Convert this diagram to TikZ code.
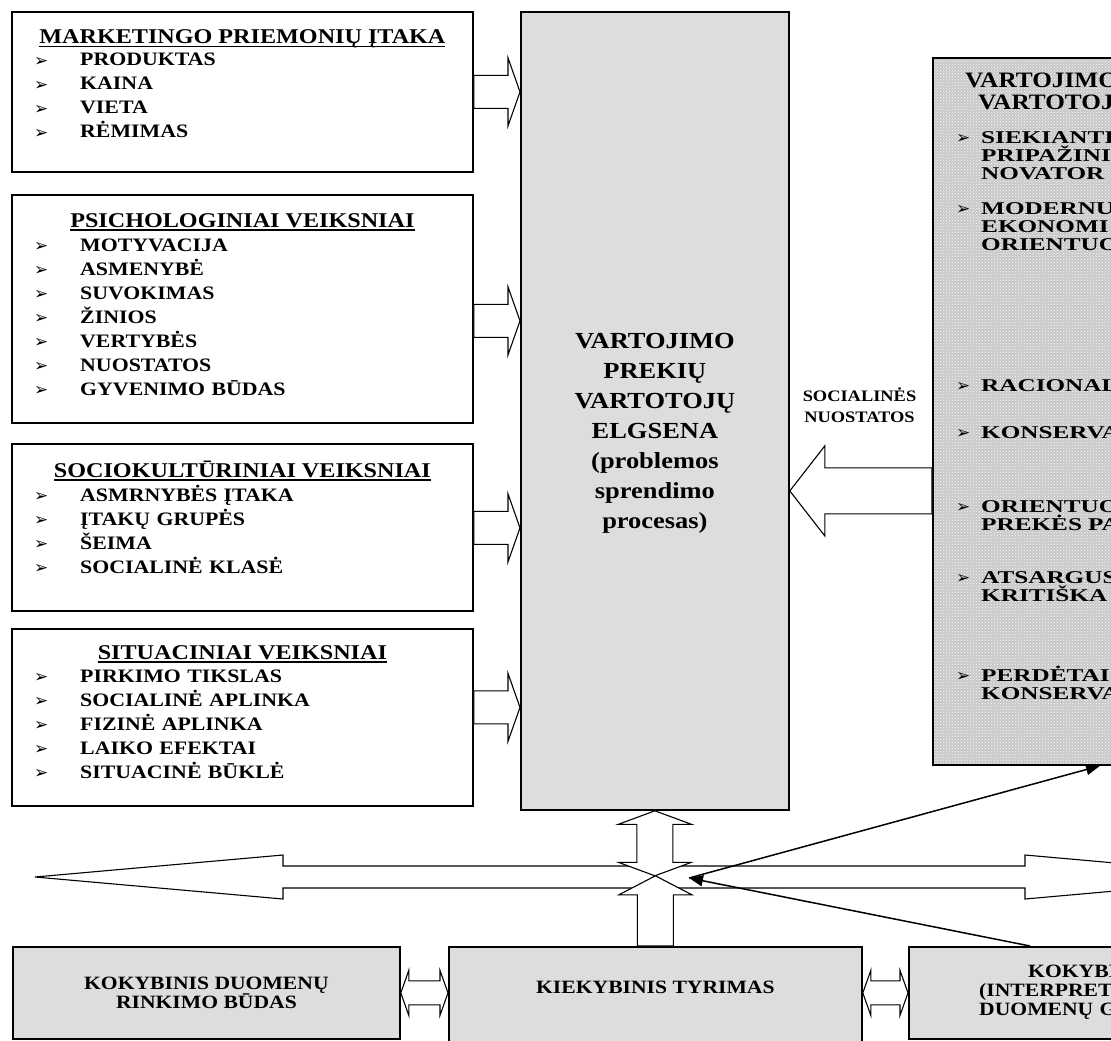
\documentclass[tikz,border=0pt]{standalone}
\usepackage{fontspec}
\setmainfont{Liberation Serif}[FakeStretch=1.15]
\newfontfamily\widefont{Liberation Serif}[FakeStretch=1.4]
\newfontfamily\dingfont{DejaVu Sans}
\usepackage{tikz}
\usetikzlibrary{calc, arrows.meta, patterns}

\definecolor{PanelGray}{RGB}{221,221,221}
\definecolor{DotBase}{RGB}{200,200,200}

\tikzset{
  factor/.style={draw, line width=1.8pt, fill=white, inner sep=0pt,
    minimum width=461pt, anchor=north west},
  panel/.style={draw, line width=1.8pt, fill=PanelGray, inner sep=0pt, anchor=north west},
  head/.style={anchor=base, inner sep=0pt, font=\bfseries\fontsize{21}{24}\selectfont},
  items/.style={anchor=base west, inner sep=0pt, align=left, text width=400pt,
    font=\bfseries\fontsize{19}{24}\selectfont},
  ritems/.style={anchor=base west, inner sep=0pt, align=left, text width=200pt,
    font=\widefont\bfseries\fontsize{18}{18}\selectfont},
  boxtxt/.style={inner sep=0pt, font=\bfseries\fontsize{18.8}{19}\selectfont},
  fat/.style={draw, fill=white, line width=1.1pt, line join=miter},
  thin/.style={line width=1.5pt, -{Triangle[length=14pt,width=11pt]}},
}

\newcommand{\bul}{{\dingfont\fontsize{17}{17}\selectfont\raisebox{-0.6pt}{➢}}}
\newcommand{\itm}[1]{\makebox[46pt][l]{\bul}#1}
\newcommand{\ulhd}[1]{\setbox0=\hbox{#1}\rlap{\rule[-3.5pt]{\wd0}{1.6pt}}\box0}

% block arrows: tail, tip, shaft half, head half, head length
\newcommand{\hfat}[5]{%
  \draw[fat] let \p1=(#1), \p2=(#2), \p3=($(\p2)!#5!(\p1)$) in
    (\x1,\y1+#3) -- (\x3,\y1+#3) -- (\x3,\y1+#4) -- (\x2,\y1)
    -- (\x3,\y1-#4) -- (\x3,\y1-#3) -- (\x1,\y1-#3) -- cycle;}
\newcommand{\vfat}[5]{%
  \draw[fat] let \p1=(#1), \p2=(#2), \p3=($(\p2)!#5!(\p1)$) in
    (\x1+#3,\y1) -- (\x1+#3,\y3) -- (\x1+#4,\y3) -- (\x1,\y2)
    -- (\x1-#4,\y3) -- (\x1-#3,\y3) -- (\x1-#3,\y1) -- cycle;}
% double block arrows: tip, tip, shaft half, head half, head length
\newcommand{\hdfat}[5]{%
  \draw[fat] let \p1=(#1), \p2=(#2), \p3=($(\p1)!#5!(\p2)$), \p4=($(\p2)!#5!(\p1)$) in
    (\x1,\y1) -- (\x3,\y1+#4) -- (\x3,\y1+#3) -- (\x4,\y1+#3) -- (\x4,\y1+#4) -- (\x2,\y1)
    -- (\x4,\y1-#4) -- (\x4,\y1-#3) -- (\x3,\y1-#3) -- (\x3,\y1-#4) -- cycle;}
\newcommand{\vdfat}[5]{%
  \draw[fat] let \p1=(#1), \p2=(#2), \p3=($(\p1)!#5!(\p2)$), \p4=($(\p2)!#5!(\p1)$) in
    (\x1,\y1) -- (\x1+#4,\y3) -- (\x1+#3,\y3) -- (\x1+#3,\y4) -- (\x1+#4,\y4) -- (\x1,\y2)
    -- (\x1-#4,\y4) -- (\x1-#3,\y4) -- (\x1-#3,\y3) -- (\x1-#4,\y3) -- cycle;}

\begin{document}
\begin{tikzpicture}[x=1pt, y=-1pt]
  \useasboundingbox (0,0) rectangle (1111,1041);
  \clip (0,0) rectangle (1111,1041);

  % factor boxes
  \node[factor, minimum height=160pt] (mkt) at (11,11) {};
  \node[factor, minimum height=228pt] (psy) at (11,194) {};
  \node[factor, minimum height=167pt] (soc) at (11,443) {};
  \node[factor, minimum height=177pt] (sit) at (11,628) {};

  \node[head] (mkt-h) at ($(mkt.north)+(0,33)$) {\ulhd{MARKETINGO PRIEMONIŲ ĮTAKA}};
  \node[items] (mkt-l) at ($(mkt.north west)+(23,55)$)
    {\itm{PRODUKTAS}\\\itm{KAINA}\\\itm{VIETA}\\\itm{RĖMIMAS}};

  \node[head] (psy-h) at ($(psy.north)+(0,33)$) {\ulhd{PSICHOLOGINIAI VEIKSNIAI}};
  \node[items] (psy-l) at ($(psy.north west)+(23,57)$)
    {\itm{MOTYVACIJA}\\\itm{ASMENYBĖ}\\\itm{SUVOKIMAS}\\\itm{ŽINIOS}\\\itm{VERTYBĖS}\\\itm{NUOSTATOS}\\\itm{GYVENIMO BŪDAS}};

  \node[head] (soc-h) at ($(soc.north)+(0,34)$) {\ulhd{SOCIOKULTŪRINIAI VEIKSNIAI}};
  \node[items] (soc-l) at ($(soc.north west)+(23,58)$)
    {\itm{ASMRNYBĖS ĮTAKA}\\\itm{ĮTAKŲ GRUPĖS}\\\itm{ŠEIMA}\\\itm{SOCIALINĖ KLASĖ}};

  \node[head] (sit-h) at ($(sit.north)+(0,31)$) {\ulhd{SITUACINIAI VEIKSNIAI}};
  \node[items] (sit-l) at ($(sit.north west)+(23,54)$)
    {\itm{PIRKIMO TIKSLAS}\\\itm{SOCIALINĖ APLINKA}\\\itm{FIZINĖ APLINKA}\\\itm{LAIKO EFEKTAI}\\\itm{SITUACINĖ BŪKLĖ}};

  % central box
  \node[panel, minimum width=268pt, minimum height=798pt] (main) at (520,11) {};
  \node[anchor=base, align=center, text width=260pt, inner sep=0pt,
    font=\bfseries\fontsize{23}{30}\selectfont] (main-t) at ($(main.north)+(0,337)$)
    {VARTOJIMO\\PREKIŲ\\VARTOTOJŲ\\ELGSENA\\(problemos\\sprendimo\\procesas)};

  % consumer types box
  \node[draw, line width=1.8pt, anchor=north west, inner sep=0pt,
    preaction={fill=DotBase}, pattern=crosshatch dots, pattern color=white!92!DotBase,
    minimum width=400pt, minimum height=707pt] (attit) at (932,57) {};
  \node[anchor=base west, align=left, text width=300pt, inner sep=0pt,
    font=\bfseries\fontsize{22}{22}\selectfont] (attit-h) at ($(attit.north west)+(33,31)$)
    {VARTOJIMO\\\hspace*{13pt}VARTOTOJ};
  \foreach \yy/\txt [count=\i] in {143/{SIEKIANTI\\PRIPAŽINI\\NOVATOR},
      214/{MODERNU\\EKONOMI\\ORIENTUO}, 391/{RACIONAL}, 438/{KONSERVA},
      512/{ORIENTUO\\PREKĖS PA}, 583/{ATSARGUS\\KRITIŠKA}, 681/{PERDĖTAI\\KONSERVA}}
    \node[ritems] (attit-\i) at (981,\yy) {\llap{\makebox[25pt][l]{\bul}}\txt};

  \node[anchor=base, align=center, text width=150pt, inner sep=0pt,
    font=\bfseries\fontsize{16}{21}\selectfont] (attit-l) at (859.5,401) {SOCIALINĖS\\NUOSTATOS};

  % research boxes
  \node[panel, boxtxt, align=center, minimum width=387pt, minimum height=92pt] (qual) at (12,946)
    {KOKYBINIS DUOMENŲ\\RINKIMO BŪDAS};
  \node[panel, minimum width=413pt, minimum height=110pt] (quant) at (448,946) {};
  \node[boxtxt, anchor=base] (quant-t) at ($(quant.north)+(0,47)$) {KIEKYBINIS TYRIMAS};
  \node[panel, minimum width=400pt, minimum height=92pt] (interp) at (908,946) {};
  \node[boxtxt, anchor=base west, align=left, text width=300pt] (interp-t) at (979,977)
    {\hspace*{49pt}KOKYBI\\(INTERPRET\\DUOMENŲ G};

  % factors into behaviour
  \foreach \b/\dy in {mkt/0, psy/12, soc/0.5, sit/-10} {
    \coordinate (\b-in) at ($(\b.east)+(0,\dy)$);
    \hfat{\b-in}{main.west |- \b-in}{16.5pt}{34pt}{12pt}
  }
  \coordinate (soc-out) at ($(attit.west)+(0,79.5)$);
  \hfat{soc-out}{main.east |- soc-out}{23pt}{45pt}{35pt}

  % long double arrow
  \coordinate (wtip) at (35,877);
  \coordinate (etip) at (1273,877);
  \hdfat{wtip}{etip}{11pt}{22pt}{248pt}

  \coordinate (junction) at ($(main.south)+(0,65)$);
  \vdfat{main.south}{junction}{18pt}{36.5pt}{13.5pt}
  \vfat{quant.north}{junction}{18pt}{36.5pt}{19pt}

  \hdfat{qual.east}{quant.west |- qual.east}{12pt}{22.5pt}{8pt}
  \hdfat{quant.east |- interp.west}{interp.west}{12pt}{22.5pt}{8pt}

  % feedback lines
  \coordinate (hub) at (689,878);
  \draw[thin] ($(interp.north west)+(122,0)$) -- (hub);
  \draw[thin] (hub) -- ($(attit.south west)+(168,0)$);
\end{tikzpicture}
\end{document}
